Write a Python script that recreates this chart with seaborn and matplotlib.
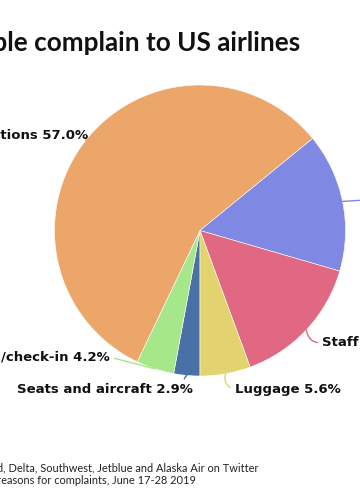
import numpy as np
import matplotlib
matplotlib.use("Agg")
import matplotlib.pyplot as plt
import seaborn as sns

# Data (order clockwise from the bottom of the pie)
reasons = ["Seats and aircraft", "Booking/check-in", "Delays and cancellations",
           "Other", "Staff", "Luggage"]
shares = [2.9, 4.2, 57.0, 15.4, 14.9, 5.6]
colors = ["#4A70A8", "#A6E78A", "#ECA66A", "#7F88E2", "#E06882", "#E2D36E"]

# label layout: text anchor (data coords, radius 1 pie), alignment, leader curve
label_pos = [(-0.05, -1.096), (-0.62, -0.87), (-0.77, 0.656),
             (1.14, 0.21), (0.84, -0.773), (0.24, -1.09)]
label_ha = ["right", "right", "right", "left", "left", "left"]
label_rel = [(0.95, 0.85), (1, 0.5), (1, 0.5), (0, 0.5), (0, 0.5), (0, 0.5)]
label_rad = [-0.3, 0.0, 0.0, 0.0, -0.45, -0.5]

sns.set_theme(style="white")
plt.rcParams["font.family"] = ["DejaVu Sans"]

W, H = 360, 500
fig = plt.figure(figsize=(W / 100, H / 100), dpi=100)
fig.patch.set_facecolor("white")

# pie centre at (200, 230.5) px, radius 145.5 px
cx, cy, r = 200, 230.5, 145.5
ax = fig.add_axes([(cx - r) / W, 1 - (cy + r) / H, 2 * r / W, 2 * r / H])
wedges, _ = ax.pie(shares, colors=colors, startangle=270, counterclock=False,
                   radius=1, wedgeprops=dict(edgecolor="white", linewidth=0.4))
ax.set_xlim(-1, 1)
ax.set_ylim(-1, 1)
ax.set_aspect("equal")
ax.axis("off")

for w, name, val, pos, ha, rel, rad, col in zip(wedges, reasons, shares, label_pos,
                                                label_ha, label_rel, label_rad, colors):
    ang = np.deg2rad((w.theta1 + w.theta2) / 2)
    pt = (np.cos(ang), np.sin(ang))
    ax.annotate(f"{name} {val:.1f}%", xy=pt, xytext=pos, ha=ha, va="center",
                fontsize=9.5, fontweight="bold", color="#111111",
                annotation_clip=False,
                arrowprops=dict(arrowstyle="-", color=col, lw=1.0, relpos=rel,
                                shrinkA=1, shrinkB=0,
                                connectionstyle=f"arc3,rad={rad}"))

fig.text(300 / W, 1 - 43 / H, "Why people complain to US airlines",
         ha="right", va="center", fontsize=18.8, fontweight="bold",
         family=["Lato", "DejaVu Sans"], color="#111111")

fig.text(258 / W, 1 - 468 / H,
         "Source: Tweets to American, United, Delta, Southwest, Jetblue and Alaska Air on Twitter",
         ha="right", va="center", fontsize=7.9, family=["Lato", "DejaVu Sans"], color="#222222")
fig.text(196 / W, 1 - 480 / H,
         "Note: Analysis of tweets with identified reasons for complaints, June 17-28 2019",
         ha="right", va="center", fontsize=7.9, family=["Lato", "DejaVu Sans"], color="#222222")

fig.savefig("out.png", dpi=100, facecolor="white")
